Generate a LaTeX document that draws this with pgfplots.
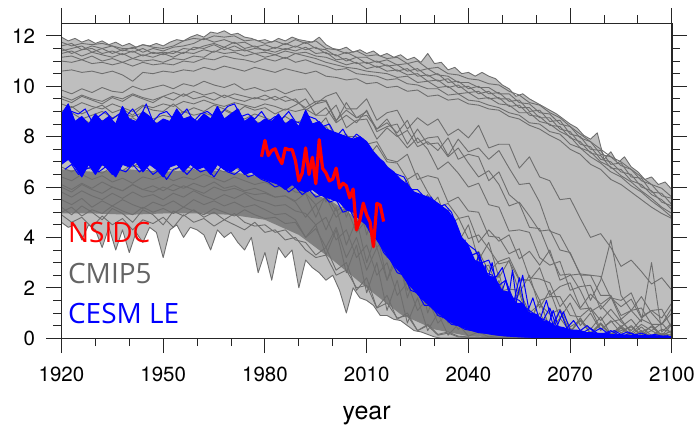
\documentclass[border=0pt]{standalone}
\usepackage{fontspec}
\setmainfont{TeX Gyre Heros}
\newfontfamily\osans{Open Sans}
\usepackage{pgfplots}
\usepackage{pgfplotstable}
\pgfplotsset{compat=1.18}
\usepgfplotslibrary{fillbetween}

\definecolor{modelgray}{RGB}{110,110,110}
\definecolor{envgray}{RGB}{190,190,190}
\definecolor{coregray}{RGB}{128,128,128}
\definecolor{labelgray}{RGB}{100,100,100}

% CMIP5 September extent (10^6 km^2), one model per row, every third year
\pgfplotstableread[header=false]{
year 1920 1923 1926 1929 1932 1935 1938 1941 1944 1947 1950 1953 1956 1959 1962 1965 1968 1971 1974 1977 1980 1983 1986 1989 1992 1995 1998 2001 2004 2007 2010 2013 2016 2019 2022 2025 2028 2031 2034 2037 2040 2043 2046 2049 2052 2055 2058 2061 2064 2067 2070 2073 2076 2079 2082 2085 2088 2091 2094 2097 2100
A1 11.75 11.6 11.7 11.65 11.7 11.6 11.5 11.5 11.65 11.55 11.5 11.6 11.8 11.9 11.85 12.0 11.95 12.0 11.8 11.85 11.7 11.8 11.65 11.85 11.7 11.8 11.5 11.45 11.3 11.4 11.2 11.25 11.1 11.15 10.9 11.0 10.7 10.75 10.5 10.45 10.3 10.25 10.1 10.05 9.8 9.65 9.35 9.25 8.95 8.75 8.4 8.1 7.8 7.5 7.2 7.0 6.7 6.4 6.1 5.95 5.6
A2 11.6 11.7 11.45 11.6 11.5 11.6 11.4 11.55 11.35 11.5 11.4 11.55 11.6 11.7 11.9 11.75 11.85 11.7 11.75 11.55 11.65 11.5 11.7 11.55 11.75 11.5 11.45 11.2 11.35 11.15 11.15 10.95 11.05 10.85 10.9 10.6 10.7 10.45 10.4 10.15 10.15 9.95 9.95 9.7 9.7 9.35 9.3 8.95 8.9 8.5 8.4 7.95 7.8 7.3 7.2 6.85 6.7 6.25 6.1 5.65 5.55
A3 11.4 11.5 11.6 11.35 11.5 11.3 11.45 11.35 11.5 11.3 11.35 11.3 11.5 11.45 11.6 11.7 11.55 11.75 11.5 11.6 11.4 11.55 11.45 11.6 11.45 11.55 11.3 11.25 11.0 11.15 10.9 11.0 10.8 10.85 10.6 10.7 10.4 10.5 10.15 10.2 9.9 10.0 9.7 9.75 9.4 9.45 9.0 9.05 8.6 8.65 8.1 8.0 7.5 7.45 6.9 6.95 6.4 6.35 5.8 5.75 5.3
A4 11.5 11.3 11.45 11.5 11.3 11.4 11.25 11.4 11.2 11.35 11.25 11.4 11.3 11.55 11.5 11.65 11.45 11.6 11.4 11.5 11.45 11.35 11.5 11.4 11.55 11.3 11.35 11.05 11.1 10.9 10.95 10.75 10.85 10.6 10.7 10.4 10.45 10.2 10.3 9.95 10.0 9.7 9.8 9.5 9.5 9.15 9.15 8.75 8.75 8.3 8.2 7.7 7.6 7.1 7.0 6.6 6.5 6.0 5.85 5.4 5.25
A5 11.3 11.4 11.2 11.35 11.25 11.15 11.3 11.1 11.25 11.15 11.3 11.15 11.35 11.3 11.45 11.35 11.55 11.4 11.45 11.3 11.35 11.25 11.4 11.3 11.35 11.2 11.15 11.0 10.85 10.95 10.7 10.8 10.6 10.65 10.45 10.5 10.2 10.25 9.95 10.05 9.75 9.8 9.5 9.55 9.2 9.25 8.85 8.8 8.45 8.4 7.95 7.8 7.35 7.25 6.75 6.7 6.25 6.1 5.7 5.5 5.1
A6 11.15 11.2 11.05 11.2 11.0 11.1 10.95 11.1 11.0 11.05 10.95 11.1 11.05 11.2 11.15 11.4 11.3 11.35 11.2 11.3 11.15 11.25 11.1 11.3 11.2 11.1 10.95 10.85 10.75 10.7 10.6 10.55 10.5 10.35 10.4 10.15 10.2 9.95 10.0 9.7 9.75 9.5 9.55 9.3 9.25 8.95 8.95 8.6 8.5 8.2 8.0 7.55 7.4 7.0 6.8 6.45 6.2 5.85 5.55 5.2 4.95
A7 11.0 10.95 11.05 10.9 10.95 10.85 10.95 10.8 10.95 10.85 10.9 10.85 11.0 10.95 11.1 11.05 11.2 11.1 11.05 10.95 11.1 11.0 11.15 10.95 11.05 10.9 10.8 10.65 10.7 10.5 10.45 10.4 10.25 10.3 10.1 10.05 9.9 9.9 9.65 9.7 9.45 9.4 9.25 9.15 8.95 8.85 8.55 8.5 8.2 8.1 7.7 7.55 7.2 6.95 6.6 6.4 6.05 5.8 5.45 5.15 4.8
B1 9.85 9.7 9.9 9.75 9.95 9.8 9.75 10.0 9.85 9.95 10.05 9.9 10.1 10.0 10.2 10.05 9.95 10.1 9.85 9.95 9.8 9.9 9.7 9.85 9.9 9.3 9.6 9.75 9.1 9.1 9.5 8.65 8.95 9.05 8.3 8.75 8.45 8.7 8.05 8.3 7.95 8.45 7.55 7.7 7.7 6.75 7.2 6.4 6.25 5.5 5.55 4.75 4.0 4.15 3.6 2.85 3.1 2.65 2.15 2.4 1.9
B2 9.6 9.45 9.65 9.5 9.4 9.6 9.5 9.7 9.55 9.45 9.6 9.75 9.6 9.8 9.65 9.75 9.55 9.7 9.6 9.5 9.65 9.45 9.6 9.4 9.15 9.4 9.45 8.65 9.05 8.75 9.0 8.3 8.55 8.15 8.65 7.75 7.95 8.0 7.25 7.9 7.4 7.55 7.1 7.45 6.75 6.1 6.15 5.4 4.25 4.1 3.35 2.55 2.5 1.7 1.7 0.9 1.1 1.2 0.55 0.55 1.0
B3 9.3 9.15 9.35 9.2 9.1 9.3 9.15 9.0 9.25 9.15 9.3 9.2 9.4 9.3 9.45 9.3 9.2 9.35 9.25 9.15 9.3 9.2 9.05 9.25 9.5 8.85 8.85 9.25 8.35 8.65 8.7 7.9 8.35 8.0 8.25 7.6 7.8 7.45 7.95 7.1 7.3 7.2 6.25 6.6 5.7 5.35 4.4 4.35 3.35 2.5 2.55 1.9 1.05 1.3 0.85 0.45 0.75 0.25 0.45 0.1 0.3
B4 10.6 10.65 10.55 10.6 10.5 10.6 10.45 10.2 10.55 10.5 10.6 10.55 10.65 10.6 10.75 10.65 10.8 10.7 10.6 10.75 10.65 10.55 10.7 10.6 10.5 10.6 10.4 10.35 10.25 10.3 10.1 10.15 9.95 10.0 9.8 9.85 9.6 9.65 9.45 9.5 9.3 9.25 9.1 9.05 8.8 8.7 8.45 8.3 8.05 7.85 7.5 7.3 6.9 6.7 6.3 6.1 5.8 5.5 5.2 4.95 4.75
C1 8.8 8.95 8.7 8.85 9.0 8.75 8.9 8.8 8.95 8.7 8.85 8.75 9.0 8.85 8.95 8.8 9.05 8.85 8.7 8.9 8.75 8.6 8.8 8.55 8.7 8.3 8.75 7.85 8.0 8.0 7.15 7.65 7.0 6.95 6.3 6.55 5.8 5.2 5.35 4.8 3.95 4.1 3.55 2.95 3.05 2.3 2.3 1.5 1.65 1.65 0.9 0.85 1.2 0.35 0.65 0.75 0.2 0.55 0.3 0.6 0.15
C2 8.5 8.35 8.6 8.45 8.3 8.55 8.4 8.6 8.45 8.55 8.35 8.5 8.4 8.6 8.5 8.65 8.4 8.55 8.35 8.45 8.3 8.4 8.2 8.3 7.9 8.3 7.75 7.3 7.65 7.25 6.55 6.8 6.35 5.8 5.9 5.1 5.0 4.1 4.1 3.95 3.0 2.75 2.9 1.85 1.95 1.9 1.0 1.35 0.95 1.15 0.45 0.7 0.35 0.85 0.15 0.3 0.45 0.1 0.5 0.1 0.3
C3 8.2 8.05 8.3 8.1 8.25 8.0 8.15 8.3 8.05 8.2 8.1 8.25 8.05 8.3 8.15 8.35 8.1 8.2 8.0 8.1 7.95 8.05 7.8 7.9 7.6 7.3 7.7 7.0 7.45 6.7 7.1 6.3 6.8 5.8 6.3 5.2 5.7 4.5 5.1 3.8 4.5 3.1 3.8 2.4 3.1 1.8 2.5 1.2 1.9 0.8 1.4 0.5 1.0 0.3 0.7 0.2 0.5 0.12 0.3 0.08 0.15
C4 7.8 7.65 7.9 7.7 7.55 7.85 7.7 7.6 7.8 7.65 7.85 7.7 7.9 7.75 7.6 7.8 7.65 7.85 7.7 7.55 7.6 7.45 7.5 7.3 7.0 7.35 6.7 7.3 6.3 7.0 5.8 6.6 5.0 6.1 4.3 5.4 3.5 4.7 2.8 4.0 2.1 3.3 1.5 2.6 0.9 2.0 0.6 1.5 0.35 1.1 0.2 0.8 0.15 0.55 0.1 0.4 0.06 0.25 0.05 0.15 0.05
C5 7.5 7.35 7.6 7.4 7.55 7.3 7.45 7.6 7.35 7.5 7.4 7.55 7.3 7.5 7.35 7.55 7.4 7.3 7.45 7.25 7.3 7.1 7.2 6.95 7.0 6.6 6.9 6.2 6.6 5.7 6.1 5.0 5.5 4.1 4.7 3.2 3.8 2.5 3.0 1.8 2.3 1.1 1.7 0.7 1.2 0.4 0.9 0.25 0.6 0.15 0.4 0.1 0.25 0.06 0.15 0.04 0.1 0.03 0.06 0.02 0.02
C6 7.0 7.15 6.9 7.05 6.85 7.1 6.95 6.8 7.05 6.9 7.1 6.95 7.15 7.0 7.2 7.0 6.9 7.05 6.85 6.95 6.8 6.65 6.7 6.5 6.0 6.4 5.4 6.3 4.8 5.8 4.1 5.3 3.2 4.6 2.3 3.8 1.5 2.9 0.9 2.1 0.5 1.5 0.3 1.0 0.15 0.6 0.1 0.4 0.05 0.2 0.04 0.1 0.02 0.06 0.02 0.03 0.01 0.01 0.01 0.01 0.01
D1 6.8 6.6 6.85 6.7 6.55 6.8 6.65 6.9 6.7 6.6 6.8 6.65 6.85 6.7 6.9 6.75 6.6 6.8 6.55 6.7 6.5 6.6 6.35 6.45 5.9 6.2 5.5 6.2 5.0 5.9 4.4 5.4 3.7 4.8 3.1 4.2 2.5 3.6 2.1 3.1 1.7 2.8 1.2 2.3 0.9 1.8 0.6 1.5 0.4 1.1 0.25 0.8 0.2 0.6 0.12 0.45 0.08 0.3 0.06 0.2 0.1
D2 6.4 6.25 6.5 6.3 6.45 6.2 6.35 6.15 6.4 6.3 6.45 6.25 6.4 6.3 6.5 6.35 6.2 6.4 6.25 6.1 6.2 6.0 6.05 5.8 5.75 5.3 5.6 4.8 5.2 4.2 4.7 3.6 4.1 2.9 3.4 2.3 2.8 1.7 2.2 1.3 1.8 0.9 1.4 0.6 1.0 0.4 0.7 0.25 0.5 0.15 0.35 0.1 0.2 0.06 0.12 0.04 0.08 0.03 0.05 0.02 0.02
D3 6.1 5.9 6.15 5.95 6.2 6.0 5.85 6.1 5.9 6.05 5.85 6.1 5.95 6.15 6.0 6.2 5.95 6.05 5.85 5.95 5.8 5.6 5.65 5.4 4.8 5.3 4.3 5.2 3.7 4.7 3.0 4.2 2.3 3.5 1.6 2.8 1.0 2.1 0.6 1.5 0.35 1.0 0.2 0.6 0.1 0.35 0.06 0.2 0.04 0.1 0.03 0.05 0.02 0.03 0.02 0.02 0.01 0.01 0.01 0.01 0.01
D4 5.8 5.6 5.85 5.65 5.5 5.75 5.55 5.8 5.6 5.7 5.5 5.75 5.6 5.85 5.65 5.5 5.7 5.55 5.75 5.5 5.4 5.25 5.3 5.05 4.95 4.5 4.8 3.9 4.3 3.2 3.7 2.5 3.0 1.7 2.2 1.1 1.6 0.6 1.0 0.35 0.7 0.2 0.4 0.12 0.2 0.06 0.1 0.04 0.06 0.03 0.03 0.03 0.02 0.02 0.02 0.01 0.01 0.01 0.01 0.01 0.01
D5 5.5 5.3 5.55 5.2 5.45 5.25 5.5 5.3 5.15 5.4 5.25 5.45 5.2 5.5 5.3 5.45 5.25 5.4 5.2 5.3 5.1 4.9 4.95 4.7 4.0 4.5 3.3 4.3 2.6 3.7 1.8 3.0 1.1 2.3 0.6 1.6 0.3 1.0 0.12 0.55 0.08 0.25 0.05 0.12 0.04 0.06 0.02 0.03 0.02 0.02 0.01 0.01 0.01 0.01 0.01 0.01 0.01 0.01 0.01 0.01 0.01
D6 5.2 4.9 5.25 5.0 4.7 5.15 4.95 4.6 5.1 4.9 4.5 5.05 4.85 5.1 4.8 5.0 4.7 4.95 4.6 4.45 4.5 4.2 4.3 3.9 3.8 3.3 3.6 2.7 3.0 1.9 2.4 1.2 1.7 0.75 1.0 0.3 0.55 0.15 0.25 0.08 0.05 0.04 0.03 0.02 0.02 0.01 0.01 0.01 0.01 0.01 0.01 0.01 0.01 0.01 0.01 0.01 0.01 0.01 0.01 0.01 0.01
D7 4.9 4.6 4.8 4.4 4.85 4.5 4.75 4.3 4.7 4.55 4.8 4.4 4.9 4.6 4.75 4.45 4.7 4.5 4.3 4.6 4.2 4.3 3.9 4.0 3.5 3.2 3.3 2.5 2.7 2.0 2.1 1.2 1.4 0.8 0.9 0.3 0.5 0.12 0.2 0.05 0.03 0.02 0.02 0.01 0.01 0.01 0.01 0.01 0.01 0.01 0.01 0.01 0.01 0.01 0.01 0.01 0.01 0.01 0.01 0.01 0.01
D8 5.0 5.2 4.85 5.1 4.95 5.25 5.05 4.9 5.2 5.0 5.15 4.95 5.2 5.05 4.9 5.15 5.0 4.85 5.1 4.9 4.75 4.8 4.55 4.6 4.0 4.35 3.6 4.4 3.2 4.0 2.7 3.6 2.3 3.2 1.9 2.8 1.5 2.4 1.2 2.0 0.9 1.7 0.7 1.4 0.5 1.2 0.4 1.0 0.3 0.8 0.25 0.7 0.2 0.6 0.15 0.5 0.12 0.45 0.1 0.35 0.25
E1 7.2 7.05 7.3 7.1 7.0 7.25 7.1 7.35 7.15 7.05 7.25 7.1 7.3 7.15 7.35 7.2 7.05 7.25 7.1 7.0 7.1 6.95 7.05 6.85 7.05 6.35 6.95 6.65 6.3 6.8 6.15 6.4 5.6 6.0 6.15 5.25 5.15 5.6 4.45 4.75 4.85 3.8 4.3 3.85 4.1 3.15 3.45 2.9 3.5 2.3 2.5 2.55 1.5 2.3 3.9 1.7 1.1 1.65 1.0 0.55 1.2
E2 6.0 5.8 6.1 5.9 5.75 6.0 5.85 6.1 5.9 5.8 6.0 5.85 6.05 5.9 5.75 6.0 5.85 5.95 5.8 5.7 5.75 5.6 5.65 5.45 5.75 4.8 5.7 5.05 5.3 4.75 5.3 4.65 4.15 4.75 4.4 3.65 4.2 3.85 3.45 3.9 3.2 3.45 2.65 3.05 3.2 2.35 2.3 2.8 1.7 2.05 2.2 1.2 1.75 1.35 1.65 0.75 1.1 0.65 3.0 0.25 0.6
F1 9.0 9.2 8.9 9.1 9.25 8.95 9.1 8.85 9.2 9.05 9.0 9.3 8.95 9.15 9.0 9.25 9.1 8.9 9.2 9.05 9.15 8.9 9.1 9.0 9.1 8.85 9.15 8.55 8.85 8.55 9.05 8.2 8.4 8.5 7.7 8.3 7.7 7.75 7.2 7.55 6.95 6.4 6.65 6.1 5.25 5.4 4.85 4.25 4.3 3.5 3.4 2.5 2.5 2.45 1.6 1.5 1.8 0.85 1.1 1.15 0.4
F2 8.6 8.45 8.7 8.5 8.65 8.4 8.6 8.75 8.5 8.6 8.45 8.7 8.55 8.4 8.65 8.5 8.7 8.55 8.45 8.6 8.5 8.35 8.55 8.4 8.35 8.05 8.4 7.9 8.1 7.45 7.7 7.8 7.1 7.0 7.3 6.3 6.45 6.35 5.4 5.6 5.05 5.0 4.05 4.0 3.35 3.55 2.4 2.35 2.2 1.25 1.75 1.15 1.2 0.7 1.15 0.65 0.3 0.75 0.55 0.1 0.55
F3 9.5 9.35 9.6 9.45 9.3 9.55 9.4 9.65 9.5 9.35 9.6 9.45 9.7 9.5 9.6 9.45 9.65 9.5 9.4 9.55 9.45 9.6 9.4 9.5 9.05 9.3 9.4 8.6 9.35 8.75 8.85 8.3 8.7 8.05 7.55 7.95 7.5 6.7 7.0 6.55 6.0 6.15 5.3 5.2 4.25 4.3 4.2 3.2 2.9 3.05 1.9 2.05 2.1 1.15 1.6 1.25 1.55 0.8 1.1 0.8 1.4
}\grayraw
\pgfplotstabletranspose[colnames from=0]{\grayT}{\grayraw}

% CMIP5 range (etop, ebot) and CESM LE upper/lower members (bU, bL), every second year
\pgfplotstableread[header=false]{
year 1920 1922 1924 1926 1928 1930 1932 1934 1936 1938 1940 1942 1944 1946 1948 1950 1952 1954 1956 1958 1960 1962 1964 1966 1968 1970 1972 1974 1976 1978 1980 1982 1984 1986 1988 1990 1992 1994 1996 1998 2000 2002 2004 2006 2008 2010 2012 2014 2016 2018 2020 2022 2024 2026 2028 2030 2032 2034 2036 2038 2040 2042 2044 2046 2048 2050 2052 2054 2056 2058 2060 2062 2064 2066 2068 2070 2072 2074 2076 2078 2080 2082 2084 2086 2088 2090 2092 2094 2096 2098 2100
etop 11.95 11.80 11.90 11.75 11.85 11.70 11.80 11.65 11.75 11.60 11.70 11.55 11.65 11.60 11.70 11.60 11.75 11.85 11.80 11.95 12.05 11.95 12.15 12.10 12.20 12.05 12.10 11.95 11.90 11.80 11.85 11.75 11.90 11.80 11.95 11.85 11.80 11.75 11.95 11.65 11.50 11.45 11.55 11.35 11.45 11.30 11.40 11.20 11.30 11.15 11.25 11.05 11.15 10.95 11.30 10.90 10.95 10.65 10.75 10.50 10.55 10.40 10.55 10.40 10.30 10.05 9.90 9.60 9.70 9.50 9.35 9.20 9.05 8.90 8.70 8.50 8.35 8.05 7.90 8.15 7.10 7.40 6.95 7.20 6.80 6.60 6.30 6.40 6.10 6.20 5.90
ebot 4.6 4.4 4.5 3.9 4.5 4.3 3.6 4.4 3.5 4.3 3.4 4.2 3.8 4.4 4.2 3.2 4.3 4.5 4.0 4.4 4.3 4.1 3.5 4.3 4.0 4.2 3.8 3.5 4.0 2.6 3.4 2.3 3.6 3.2 3.5 2.0 3.1 2.8 2.6 2.3 2.5 1.9 1.0 2.0 1.6 1.5 1.3 0.9 0.9 0.75 0.7 0.5 0.3 0.25 0.15 0.05 0 0 0 0 0 0 0 0 0 0 0 0 0 0 0 0 0 0 0 0 0 0 0 0 0 0 0 0 0 0 0 0 0 0 0
bU 8.9 9.3 8.6 8.8 8.5 8.9 8.6 8.8 8.5 9.2 8.7 8.6 9.0 8.8 8.5 8.7 8.6 9.1 8.7 8.8 8.6 8.9 8.7 9.2 8.7 8.9 9.1 8.6 8.8 8.5 8.7 8.6 8.9 8.5 8.7 8.4 9.05 8.5 8.6 8.3 8.2 8.1 8.0 7.9 8.0 7.8 7.4 7.1 6.8 6.6 6.3 6.1 5.8 5.7 5.6 5.45 5.25 5.05 4.7 4.0 3.7 3.5 3.0 3.1 2.4 2.8 1.85 1.4 2.5 1.0 0.95 0.7 1.2 0.45 1.05 0.32 0.32 0.24 0.4 0.19 0.19 0.3 0.15 0.12 0.2 0.1 0.1 0.12 0.08 0.06 0.06
bL 6.9 7.1 6.8 6.4 6.9 6.5 6.9 6.7 6.4 6.9 6.8 7.0 6.6 6.9 6.7 6.4 6.8 6.9 6.6 6.9 6.7 6.8 6.5 6.9 6.7 6.6 6.8 6.5 6.6 6.4 6.3 6.2 6.1 5.9 6.1 5.9 5.8 5.9 5.7 5.6 5.5 5.4 5.1 5.0 4.7 4.5 4.1 3.7 3.3 2.9 2.6 2.2 1.9 1.6 1.35 1.1 0.9 0.7 0.55 0.45 0.35 0.28 0.22 0.18 0.14 0.1 0.08 0.06 0.05 0.04 0.03 0.02 0.02 0.02 0.02 0.02 0.02 0.02 0.02 0.02 0.02 0.02 0.02 0.02 0.02 0.02 0.02 0.02 0.02 0.02 0.02
}\rangeraw
\pgfplotstabletranspose[colnames from=0]{\rangeT}{\rangeraw}

% dense part of the CESM LE: upper edge forward, lower edge back
\pgfplotstableread[header=false]{
bx 1920 1922 1924 1926 1928 1930 1932 1934 1936 1938 1940 1942 1944 1946 1948 1950 1952 1954 1956 1958 1960 1962 1964 1966 1968 1970 1972 1974 1976 1978 1980 1982 1984 1986 1988 1990 1992 1994 1996 1998 2000 2002 2004 2006 2008 2010 2012 2014 2016 2018 2020 2022 2024 2026 2028 2030 2032 2034 2036 2038 2040 2042 2044 2046 2048 2050 2052 2054 2056 2058 2060 2062 2064 2066 2068 2070 2072 2074 2076 2078 2080 2082 2084 2086 2088 2090 2092 2094 2096 2098 2100 2100 2098 2096 2094 2092 2090 2088 2086 2084 2082 2080 2078 2076 2074 2072 2070 2068 2066 2064 2062 2060 2058 2056 2054 2052 2050 2048 2046 2044 2042 2040 2038 2036 2034 2032 2030 2028 2026 2024 2022 2020 2018 2016 2014 2012 2010 2008 2006 2004 2002 2000 1998 1996 1994 1992 1990 1988 1986 1984 1982 1980 1978 1976 1974 1972 1970 1968 1966 1964 1962 1960 1958 1956 1954 1952 1950 1948 1946 1944 1942 1940 1938 1936 1934 1932 1930 1928 1926 1924 1922 1920
by 8.9 9.3 8.6 8.8 8.5 8.9 8.6 8.8 8.5 9.2 8.7 8.6 9.0 8.8 8.5 8.7 8.6 9.1 8.7 8.8 8.6 8.9 8.7 9.2 8.7 8.9 9.1 8.6 8.8 8.5 8.7 8.6 8.9 8.5 8.7 8.4 9.05 8.5 8.6 8.3 8.2 8.1 8.0 7.9 8.0 7.8 7.4 7.1 6.8 6.6 6.3 6.1 5.8 5.7 5.6 5.45 5.25 5.05 4.7 4.0 3.7 3.1 3.0 2.5 2.4 1.9 1.85 1.4 1.4 1.0 0.95 0.7 0.65 0.45 0.45 0.32 0.32 0.24 0.24 0.19 0.19 0.15 0.15 0.12 0.12 0.1 0.1 0.08 0.08 0.06 0.06 0.02 0.02 0.02 0.02 0.02 0.02 0.02 0.02 0.02 0.02 0.02 0.02 0.02 0.02 0.02 0.02 0.02 0.02 0.02 0.02 0.03 0.04 0.05 0.06 0.08 0.1 0.14 0.18 0.22 0.28 0.35 0.45 0.55 0.7 0.9 1.1 1.35 1.6 1.9 2.2 2.6 2.9 3.3 3.7 4.1 4.5 4.7 5.0 5.1 5.4 5.5 5.6 5.7 5.9 5.8 5.9 6.1 5.9 6.1 6.2 6.3 6.4 6.6 6.5 6.8 6.6 6.7 6.9 6.5 6.8 6.7 6.9 6.6 6.9 6.8 6.4 6.7 6.9 6.6 7.0 6.8 6.9 6.4 6.7 6.9 6.5 6.9 6.4 6.8 7.1 6.9
}\bandraw
\pgfplotstabletranspose[colnames from=0]{\bandT}{\bandraw}

% CESM LE members, odd years
\pgfplotstableread[header=false]{
year 1921 1923 1925 1927 1929 1931 1933 1935 1937 1939 1941 1943 1945 1947 1949 1951 1953 1955 1957 1959 1961 1963 1965 1967 1969 1971 1973 1975 1977 1979 1981 1983 1985 1987 1989 1991 1993 1995 1997 1999 2001 2003 2005 2007 2009 2011 2013 2015 2017 2019 2021 2023 2025 2027 2029 2031 2033 2035 2037 2039 2041 2043 2045 2047 2049 2051 2053 2055 2057 2059 2061 2063 2065 2067 2069 2071 2073 2075 2077 2079 2081 2083 2085 2087 2089 2091 2093 2095 2097 2099
L1 8.7 9.0 8.9 9.1 8.6 8.8 9.0 8.7 8.9 8.8 9.1 8.7 9.3 8.6 8.9 9.0 8.7 8.8 9.1 8.6 8.9 9.0 8.8 8.9 9.2 9.3 8.8 8.9 8.7 9.0 8.6 8.8 8.7 9.0 8.6 8.5 8.8 8.7 8.4 8.5 8.0 8.3 7.8 8.1 7.9 7.5 7.2 7.0 6.6 6.5 6.4 5.9 5.9 5.6 5.6 5.2 5.3 5.0 4.3 3.6 3.3 3.4 2.6 2.5 2.1 2.3 1.6 1.5 1.2 1.0 0.8 0.7 0.5 0.45 0.35 0.3 0.3 0.22 0.2 0.18 0.15 0.14 0.12 0.1 0.1 0.08 0.08 0.07 0.06 0.05
L2 6.7 6.9 6.5 6.7 6.8 6.6 6.8 6.5 6.7 6.6 6.9 6.6 6.8 6.5 6.7 6.3 6.7 6.8 6.5 6.8 6.6 6.7 6.4 6.8 6.6 6.5 6.7 6.4 6.5 6.3 6.2 6.0 6.1 5.8 6.0 5.7 5.9 5.6 5.7 5.4 5.5 5.0 5.1 4.6 4.7 4.2 4.0 3.4 3.1 2.6 2.5 1.9 1.8 1.3 1.3 0.9 0.8 0.55 0.5 0.35 0.3 0.22 0.2 0.15 0.12 0.1 0.08 0.06 0.05 0.04 0.03 0.03 0.02 0.02 0.02 0.02 0.02 0.02 0.02 0.02 0.02 0.02 0.02 0.02 0.01 0.01 0.01 0.01 0.01 0.01
L3 8.2 7.6 8.4 7.9 8.1 7.7 8.3 7.8 8.0 7.5 8.2 7.9 7.6 8.3 7.8 8.0 7.7 8.2 7.9 7.6 8.1 7.8 8.0 7.7 8.3 7.9 7.6 8.0 7.7 7.9 7.5 7.8 7.3 7.7 7.2 7.5 7.0 7.4 6.9 7.1 6.6 6.8 6.2 6.4 5.8 6.0 5.3 5.5 4.8 4.9 4.2 4.4 3.6 3.8 3.0 3.3 2.5 2.9 4.1 2.0 2.2 1.5 2.9 1.1 1.4 0.8 2.7 0.6 0.9 0.4 0.6 0.3 1.1 0.25 0.4 0.2 0.3 0.15 0.25 0.12 0.2 0.1 0.15 0.08 0.12 0.06 0.1 0.05 0.08 0.04
L4 7.8 8.1 7.5 7.9 7.7 8.2 7.6 7.9 8.1 7.7 7.9 7.5 8.1 7.8 7.6 8.0 7.7 7.9 7.5 8.0 7.7 7.9 7.6 8.1 7.8 7.5 7.9 7.7 8.0 7.6 7.4 7.6 7.2 7.5 7.1 7.3 6.9 7.2 6.7 6.9 6.5 6.7 6.1 6.3 5.7 5.9 5.2 5.4 4.7 4.9 4.5 4.9 3.9 4.6 3.5 4.3 3.2 3.9 2.6 3.9 2.3 3.3 1.9 3.0 1.5 2.3 1.2 2.4 0.9 1.6 0.7 1.5 0.5 1.1 0.4 0.7 0.3 0.5 0.25 0.4 0.2 0.3 0.15 0.25 0.12 0.2 0.1 0.15 0.08 0.1
}\cesmraw
\pgfplotstabletranspose[colnames from=0]{\cesmT}{\cesmraw}

% NSIDC observed September extent
\pgfplotstableread{
year ext
1979 7.20
1980 7.85
1981 7.25
1982 7.45
1983 7.52
1984 7.17
1985 6.93
1986 7.54
1987 7.48
1988 7.49
1989 7.04
1990 6.24
1991 6.55
1992 7.55
1993 6.50
1994 7.18
1995 6.13
1996 7.88
1997 6.74
1998 6.56
1999 6.24
2000 6.32
2001 6.75
2002 5.96
2003 6.15
2004 6.05
2005 5.57
2006 5.92
2007 4.30
2008 4.68
2009 5.36
2010 4.90
2011 4.61
2012 3.63
2013 5.35
2014 5.28
2015 4.63
}\nsidc

\begin{document}
\begin{tikzpicture}
\begin{axis}[
  scale only axis, width=611pt, height=315.2pt,
  xmin=1920, xmax=2100, ymin=0, ymax=12.5,
  axis on top, no markers,
  xtick={1920,1950,...,2100}, minor x tick num=2,
  ytick={0,2,...,12}, minor y tick num=3,
  tick align=outside, major tick length=15pt, minor tick length=8pt,
  every tick/.style={black!85, line width=1pt},
  axis line style={black!85, line width=1.3pt},
  tick label style={font=\fontsize{20.5}{20.5}\selectfont},
  xticklabel style={yshift=-10pt},
  yticklabel style={xshift=-8pt},
  /pgf/number format/assume math mode=true,
  /pgf/number format/1000 sep={},
  xlabel={year},
  xlabel style={font=\fontsize{25}{25}\selectfont, at={(axis description cs:0.5,0)}, anchor=base, yshift=-81.5pt},
  modelline/.style={modelgray, line width=0.9pt, line join=round},
  cesmline/.style={blue, line width=1pt, line join=round},
]
% CMIP5 spread
\addplot[draw=none, name path=etop] table[x=year, y=etop] {\rangeT};
\addplot[draw=none, name path=ebot] table[x=year, y=ebot] {\rangeT};
\addplot[envgray] fill between[of=etop and ebot];
\addplot[draw=none, name path=ctop] coordinates {(1920,6.7)(1930,6.6)(1940,6.7)(1950,6.6)(1960,6.7)(1970,6.6)(1980,6.4)(1990,6.0)(2000,5.4)(2010,4.5)(2020,3.4)(2030,2.3)(2040,1.4)(2050,0.8)(2060,0.45)(2070,0.25)(2080,0.12)(2090,0.06)(2100,0.04)};
\addplot[draw=none, name path=cbot] coordinates {(1920,4.95)(1930,4.95)(1940,4.9)(1950,4.95)(1960,4.95)(1970,4.9)(1980,4.7)(1990,4.1)(2000,3.1)(2010,2.0)(2020,0.95)(2030,0.35)(2040,0.08)(2050,0.02)(2100,0.02)};
\addplot[coregray] fill between[of=ctop and cbot];
\addplot[modelline] table[x=year, y=etop] {\rangeT};
\addplot[modelline] table[x=year, y=ebot] {\rangeT};
\pgfplotsinvokeforeach{A1,A2,A3,A4,A5,A6,A7,B1,B2,B3,B4,C1,C2,C3,C4,C5,C6,D1,D2,D3,D4,D5,D6,D7,D8,E1,E2,F1,F2,F3}{
  \addplot[modelline] table[x=year, y=#1] {\grayT};
}
% CESM large ensemble
\addplot[fill=blue, draw=none] table[x=bx, y=by] {\bandT};
\addplot[cesmline] table[x=year, y=bU] {\rangeT};
\addplot[cesmline] table[x=year, y=bL] {\rangeT};
\pgfplotsinvokeforeach{L1,L2,L3,L4}{
  \addplot[cesmline] table[x=year, y=#1] {\cesmT};
}
% observations
\addplot[red, line width=3.2pt, line join=round] table[x=year, y=ext] {\nsidc};

\node[anchor=base west, inner sep=0, text=red, font=\osans\fontsize{28}{28}\selectfont] at (axis cs:1921.9,3.79) {NSIDC};
\node[anchor=base west, inner sep=0, text=labelgray, font=\osans\fontsize{28}{28}\selectfont] at (axis cs:1921.9,2.18) {CMIP5};
\node[anchor=base west, inner sep=0, text=blue, font=\osans\fontsize{28}{28}\selectfont] at (axis cs:1921.9,0.57) {CESM LE};
\end{axis}
\path ([xshift=-61.5pt,yshift=-88.5pt]current axis.south west) rectangle ([xshift=25.5pt,yshift=23.3pt]current axis.north east);
\end{tikzpicture}
\end{document}
